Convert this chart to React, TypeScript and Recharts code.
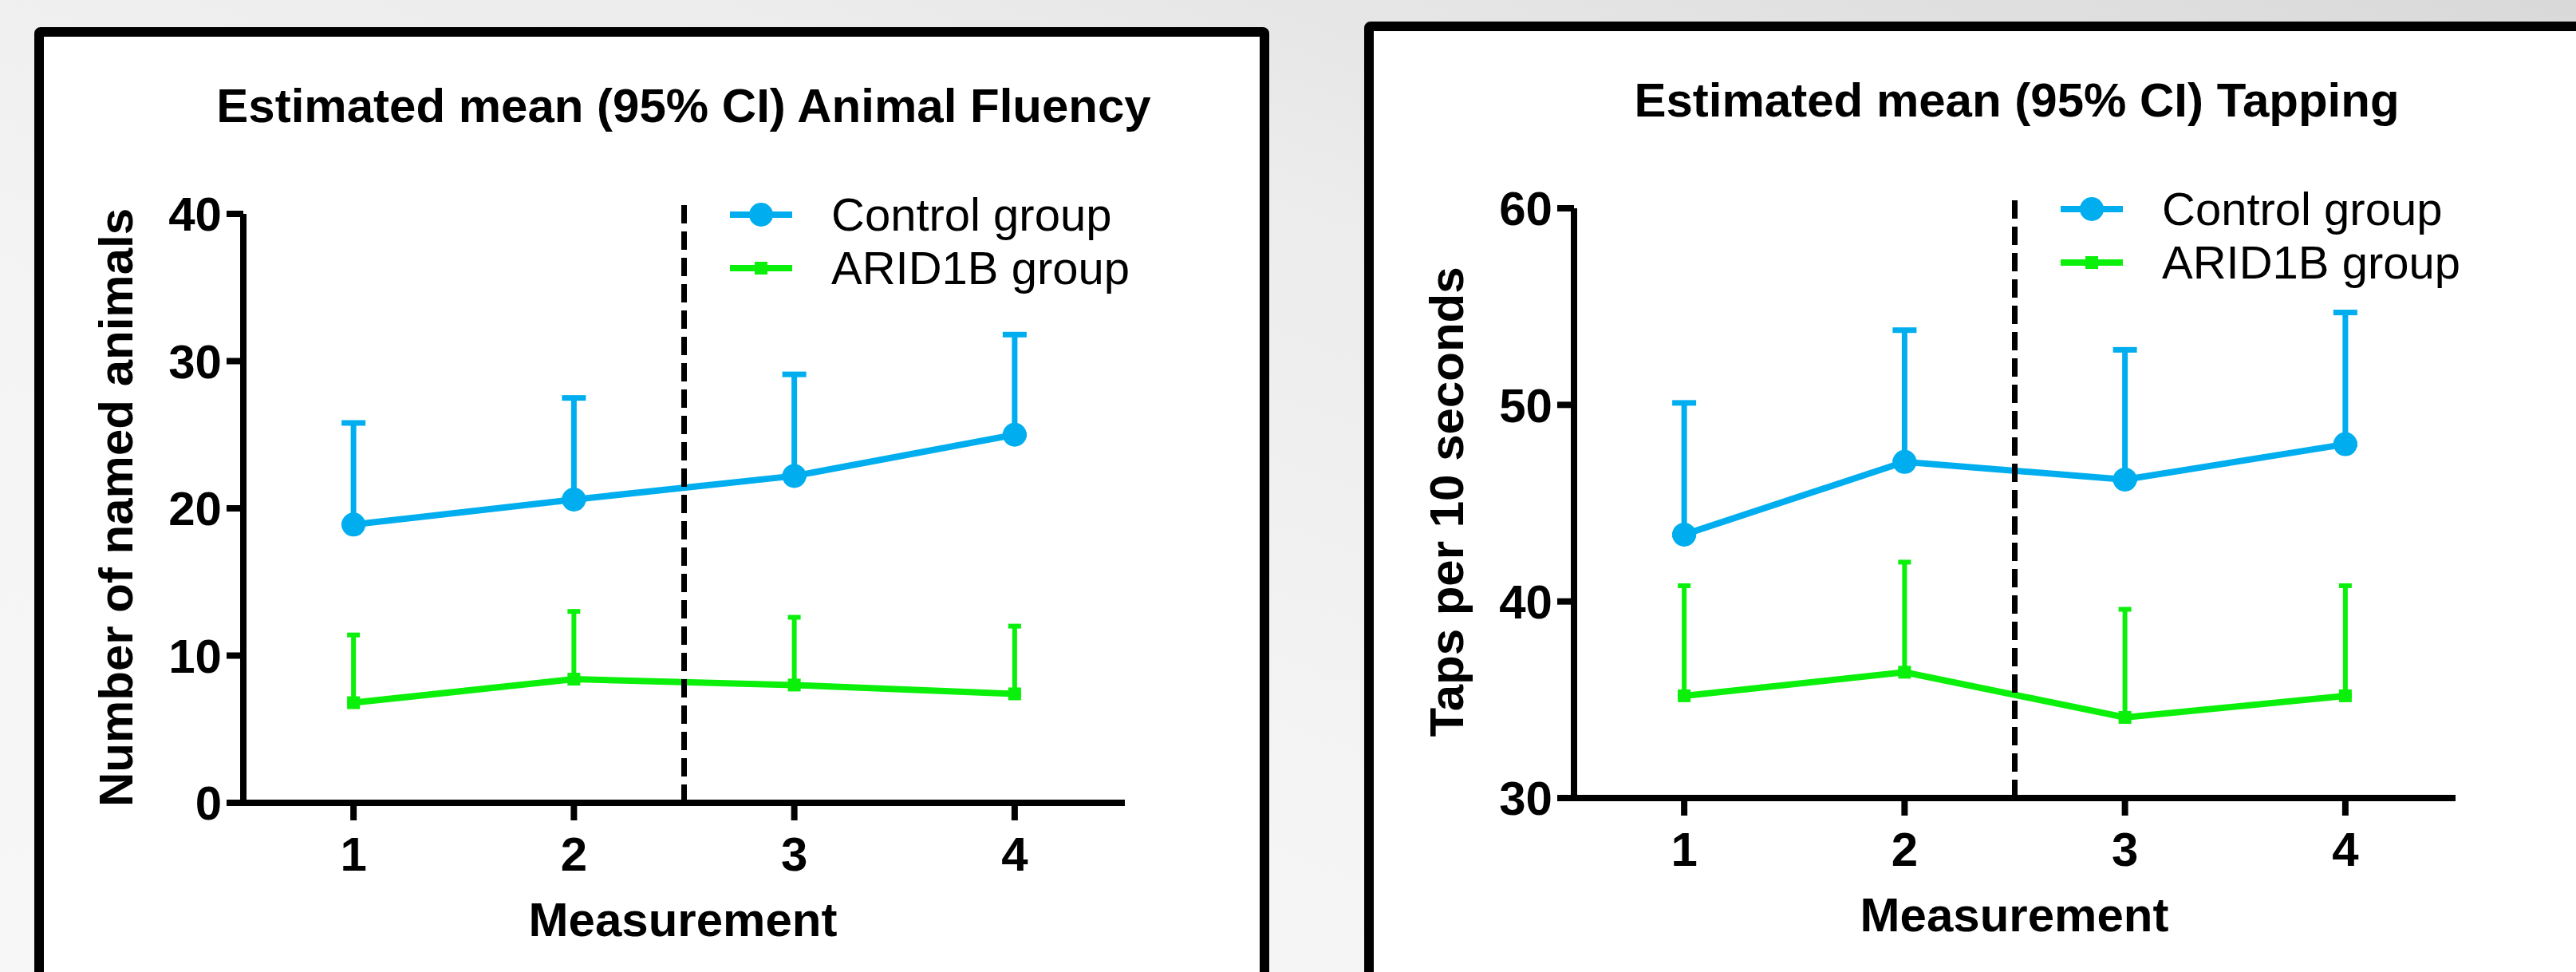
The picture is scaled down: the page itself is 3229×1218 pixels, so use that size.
import React from 'react';
import { ComposedChart, Line, XAxis, YAxis, ErrorBar, ReferenceLine, Legend } from 'recharts';

// measurement occasions (x axis)
const measurements = [1, 2, 3, 4];

// Animal Fluency: estimated means and upper 95% CI bound
const fluencyControlMean = [18.9, 20.6, 22.2, 25.0];
const fluencyControlUpper = [25.8, 27.5, 29.1, 31.8];
const fluencyAridMean = [6.8, 8.4, 8.0, 7.4];
const fluencyAridUpper = [11.4, 13.0, 12.6, 12.0];
const fluencyTicks = [0, 10, 20, 30, 40];

// Tapping: estimated means and upper 95% CI bound
const tappingControlMean = [43.4, 47.1, 46.2, 48.0];
const tappingControlUpper = [50.1, 53.8, 52.8, 54.7];
const tappingAridMean = [35.2, 36.4, 34.1, 35.2];
const tappingAridUpper = [40.8, 42.0, 39.6, 40.8];
const tappingTicks = [30, 40, 50, 60];

const seriesNames = ['Control group', 'ARID1B group'];

const BLUE = '#00AEEF';
const GREEN = '#0AF00A';
const FONT = '"Liberation Sans", Arial, Helvetica, sans-serif';

function buildRows(cm: number[], cu: number[], am: number[], au: number[]) {
  return measurements.map((m, i) => ({
    m,
    control: cm[i],
    controlErr: [0, +(cu[i] - cm[i]).toFixed(2)],
    arid: am[i],
    aridErr: [0, +(au[i] - am[i]).toFixed(2)],
  }));
}

const fluencyRows = buildRows(fluencyControlMean, fluencyControlUpper, fluencyAridMean, fluencyAridUpper);
const tappingRows = buildRows(tappingControlMean, tappingControlUpper, tappingAridMean, tappingAridUpper);

const CircleDot = (props: any) => {
  const { cx, cy, index } = props;
  return <circle key={`c-${index}`} cx={cx} cy={cy} r={15} fill={BLUE} />;
};

const SquareDot = (props: any) => {
  const { cx, cy, index } = props;
  return <rect key={`s-${index}`} x={cx - 8} y={cy - 8} width={16} height={16} fill={GREEN} />;
};

function LegendBox() {
  return (
    <div style={{ fontFamily: FONT }}>
      {seriesNames.map((name, i) => (
        <div key={name} style={{ display: 'flex', alignItems: 'center', height: 67 }}>
          <svg width={78} height={40}>
            <line x1={0} x2={78} y1={20} y2={20} stroke={i === 0 ? BLUE : GREEN} strokeWidth={8} />
            {i === 0 ? (
              <circle cx={39} cy={20} r={15} fill={BLUE} />
            ) : (
              <rect x={31} y={12} width={16} height={16} fill={GREEN} />
            )}
          </svg>
          <span style={{ marginLeft: 49, fontSize: 58, lineHeight: '67px', color: '#000', whiteSpace: 'nowrap' }}>{name}</span>
        </div>
      ))}
    </div>
  );
}

type PanelProps = {
  left: number;
  width: number;
  margin: { top: number; right: number; bottom: number; left: number };
  rows: any[];
  yDomain: [number, number];
  yTicks: number[];
  dashTop: number;
  title: string;
  titleX: number;
  titleY: number;
  yLabel: string;
  yLabelX: number;
  yLabelY: number;
  xLabelX: number;
  xLabelY: number;
  legendLeft: number;
  legendTop: number;
};

function Panel(p: PanelProps) {
  const axisStyle = { stroke: '#000', strokeWidth: 8 };
  const tickStyle = { fill: '#000', fontSize: 60, fontWeight: 'bold', fontFamily: FONT };
  return (
    <div style={{ position: 'absolute', left: p.left, top: 0 }}>
      <ComposedChart width={p.width} height={1218} data={p.rows} margin={p.margin} style={{ fontFamily: FONT }}>
        <text x={p.titleX} y={p.titleY} textAnchor="middle" fontSize={60} fontWeight="bold" fill="#000" fontFamily={FONT}>
          {p.title}
        </text>
        <text
          x={p.yLabelX}
          y={p.yLabelY}
          transform={`rotate(-90 ${p.yLabelX} ${p.yLabelY})`}
          textAnchor="middle"
          fontSize={60}
          fontWeight="bold"
          fill="#000"
          fontFamily={FONT}
        >
          {p.yLabel}
        </text>
        <text x={p.xLabelX} y={p.xLabelY} textAnchor="middle" fontSize={60} fontWeight="bold" fill="#000" fontFamily={FONT}>
          Measurement
        </text>
        <XAxis
          type="number"
          dataKey="m"
          domain={[0.5, 4.5]}
          ticks={measurements}
          interval={0}
          height={100}
          axisLine={axisStyle}
          tickLine={axisStyle}
          tickSize={22}
          tickMargin={20}
          tick={tickStyle}
        />
        <YAxis
          type="number"
          domain={p.yDomain}
          ticks={p.yTicks}
          interval={0}
          width={100}
          axisLine={axisStyle}
          tickLine={axisStyle}
          tickSize={21}
          tickMargin={6}
          tick={tickStyle}
        />
        <Line dataKey="control" name={seriesNames[0]} stroke={BLUE} strokeWidth={8} dot={CircleDot} activeDot={false} isAnimationActive={false}>
          <ErrorBar dataKey="controlErr" direction="y" width={15} strokeWidth={7} stroke={BLUE} />
        </Line>
        <Line dataKey="arid" name={seriesNames[1]} stroke={GREEN} strokeWidth={8} dot={SquareDot} activeDot={false} isAnimationActive={false}>
          <ErrorBar dataKey="aridErr" direction="y" width={8} strokeWidth={6} stroke={GREEN} />
        </Line>
        <ReferenceLine
          segment={[{ x: 2.5, y: p.yDomain[0] }, { x: 2.5, y: p.dashTop }]}
          stroke="#000"
          strokeWidth={7}
          strokeDasharray="23 10"
          ifOverflow="visible"
        />
        <Legend
          layout="vertical"
          align="center"
          verticalAlign="middle"
          content={LegendBox}
          wrapperStyle={{ left: p.legendLeft, top: p.legendTop, width: 'auto' }}
        />
      </ComposedChart>
    </div>
  );
}

export default function App() {
  return (
    <div
      style={{
        position: 'absolute',
        left: 0,
        top: 0,
        width: 3229,
        height: 1218,
        overflow: 'hidden',
        background: 'linear-gradient(200deg, #d9d9d9 0%, #ececec 35%, #f5f5f5 70%, #f7f7f7 100%)',
      }}
    >
      <div
        style={{
          position: 'absolute',
          left: 43,
          top: 34,
          width: 1548,
          height: 1260,
          boxSizing: 'border-box',
          border: '12px solid #000',
          borderRadius: 8,
          background: '#fff',
        }}
      />
      <div
        style={{
          position: 'absolute',
          left: 1710,
          top: 27,
          width: 1600,
          height: 1260,
          boxSizing: 'border-box',
          border: '12px solid #000',
          borderRadius: 8,
          background: '#fff',
        }}
      />
      <Panel
        left={0}
        width={1600}
        margin={{ top: 268, right: 190, bottom: 112, left: 205 }}
        rows={fluencyRows}
        yDomain={[0, 40]}
        yTicks={fluencyTicks}
        dashTop={40.9}
        title="Estimated mean (95% CI) Animal Fluency"
        titleX={857}
        titleY={153}
        yLabel="Number of named animals"
        yLabelX={166}
        yLabelY={636}
        xLabelX={856}
        xLabelY={1173}
        legendLeft={915}
        legendTop={235}
      />
      <Panel
        left={1600}
        width={1629}
        margin={{ top: 261, right: 151, bottom: 118, left: 273 }}
        rows={tappingRows}
        yDomain={[30, 60]}
        yTicks={tappingTicks}
        dashTop={60.67}
        title="Estimated mean (95% CI) Tapping"
        titleX={928}
        titleY={146}
        yLabel="Taps per 10 seconds"
        yLabelX={234}
        yLabelY={629}
        xLabelX={925}
        xLabelY={1167}
        legendLeft={983}
        legendTop={228}
      />
    </div>
  );
}
